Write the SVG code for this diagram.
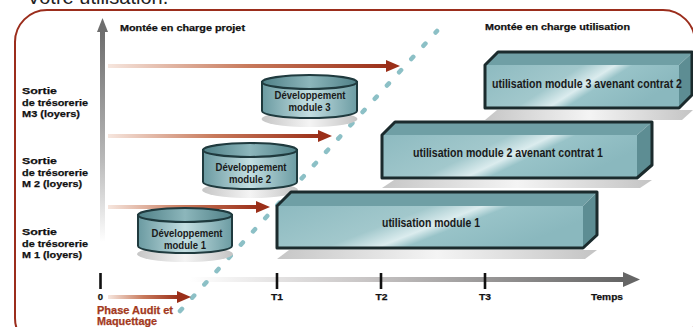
<svg xmlns="http://www.w3.org/2000/svg" width="693" height="327" viewBox="0 0 693 327">
<style>
.lbl{font-family:"Liberation Sans",Arial,sans-serif;font-weight:bold;font-size:9.5px;fill:#111;stroke:#111;stroke-width:0.25}
.red{font-family:"Liberation Sans",Arial,sans-serif;font-weight:bold;font-size:10px;fill:#a3391d;stroke:#a3391d;stroke-width:0.25}
.nar{font-family:"Liberation Sans",Arial,sans-serif;font-weight:bold;font-size:12.5px;fill:#1a1a1a;text-anchor:middle}
.cyl{font-size:11.5px}
.tick{stroke:#111;stroke-width:2.6}
.ctr{text-anchor:middle}
.outline{stroke:#1b2b2d;stroke-width:3;stroke-linejoin:round;fill:none}
.cylbody{fill:url(#cylG);stroke:#1f3a3e;stroke-width:2}
.cyltop{fill:url(#cylT);stroke:#1f3a3e;stroke-width:2.2}
.shadow{fill:url(#shG)}
.front{fill:url(#frontG)}
.topf{fill:#6f9fa5}
.side{fill:#5d8d93}
.redhead{fill:#9b2f19}
</style>
<defs>
<linearGradient id="redG" x1="0" y1="0" x2="1" y2="0">
<stop offset="0" stop-color="#f6e6de"/>
<stop offset="0.5" stop-color="#c87a5c"/>
<stop offset="1" stop-color="#9b2f19"/>
</linearGradient>
<linearGradient id="vaxG" x1="0" y1="0" x2="0" y2="1">
<stop offset="0" stop-color="#6e6e6e"/>
<stop offset="0.6" stop-color="#b8b8b8"/>
<stop offset="1" stop-color="#ffffff"/>
</linearGradient>
<linearGradient id="haxG" x1="0" y1="0" x2="1" y2="0">
<stop offset="0" stop-color="#ffffff"/>
<stop offset="0.4" stop-color="#c9c6c6"/>
<stop offset="1" stop-color="#646464"/>
</linearGradient>
<linearGradient id="cylG" x1="0" y1="0" x2="1" y2="0">
<stop offset="0" stop-color="#6a9aa1"/>
<stop offset="0.5" stop-color="#c3dee1"/>
<stop offset="1" stop-color="#6c9ca3"/>
</linearGradient>
<linearGradient id="cylT" x1="0" y1="0" x2="1" y2="0">
<stop offset="0" stop-color="#4f8087"/>
<stop offset="0.5" stop-color="#8cb6bb"/>
<stop offset="1" stop-color="#4f8087"/>
</linearGradient>
<linearGradient id="shG" x1="0" y1="0" x2="1" y2="0">
<stop offset="0" stop-color="#c6c6c6"/>
<stop offset="0.5" stop-color="#f4f4f4"/>
<stop offset="1" stop-color="#c4c4c4"/>
</linearGradient>
<linearGradient id="frontG" x1="0" y1="0" x2="1" y2="0.35">
<stop offset="0" stop-color="#8dbac0"/>
<stop offset="0.45" stop-color="#a2c8cc"/>
<stop offset="0.6" stop-color="#dbecee"/>
<stop offset="0.68" stop-color="#98c3c8"/>
<stop offset="1" stop-color="#8ab8be"/>
</linearGradient>
</defs>

<text x="27" y="4" font-family="Liberation Sans,Arial,sans-serif" font-size="20" fill="#222">Votre utilisation.</text>

<rect x="15" y="10" width="680" height="340" rx="32" ry="32" fill="none" stroke="#9b2d1c" stroke-width="2"/>

<g id="axes">
<rect x="100" y="32" width="5" height="210" fill="url(#vaxG)"/>
<polygon points="97,32 108,32 102.5,18" fill="#6e6e6e"/>
<rect x="190" y="277" width="433" height="5" fill="url(#haxG)"/>
<polygon points="623,272 640,279.5 623,287" fill="#666"/>
<line class="tick" x1="100.5" y1="273" x2="100.5" y2="289"/>
<line class="tick" x1="277" y1="273" x2="277" y2="289"/>
<line class="tick" x1="381" y1="273" x2="381" y2="289"/>
<line class="tick" x1="485" y1="273" x2="485" y2="289"/>
<text class="lbl ctr" x="100.5" y="300">0</text>
<text class="lbl ctr" x="277" y="300" textLength="12" lengthAdjust="spacingAndGlyphs">T1</text>
<text class="lbl ctr" x="381.5" y="300" textLength="12" lengthAdjust="spacingAndGlyphs">T2</text>
<text class="lbl ctr" x="485" y="300" textLength="12" lengthAdjust="spacingAndGlyphs">T3</text>
<text class="lbl ctr" x="607" y="300" textLength="32" lengthAdjust="spacingAndGlyphs">Temps</text>
</g>

<g id="labels">
<text class="lbl" x="120" y="31" textLength="125" lengthAdjust="spacingAndGlyphs">Montée en charge projet</text>
<text class="lbl" x="485" y="30" textLength="145" lengthAdjust="spacingAndGlyphs">Montée en charge utilisation</text>
<text class="lbl" x="22" y="94" textLength="35" lengthAdjust="spacingAndGlyphs">Sortie</text>
<text class="lbl" x="22" y="105.5" textLength="66" lengthAdjust="spacingAndGlyphs">de trésorerie</text>
<text class="lbl" x="22" y="117" textLength="58" lengthAdjust="spacingAndGlyphs">M3 (loyers)</text>
<text class="lbl" x="22" y="164" textLength="35" lengthAdjust="spacingAndGlyphs">Sortie</text>
<text class="lbl" x="22" y="175.5" textLength="66" lengthAdjust="spacingAndGlyphs">de trésorerie</text>
<text class="lbl" x="22" y="187" textLength="60" lengthAdjust="spacingAndGlyphs">M 2 (loyers)</text>
<text class="lbl" x="22" y="235" textLength="35" lengthAdjust="spacingAndGlyphs">Sortie</text>
<text class="lbl" x="22" y="246.5" textLength="66" lengthAdjust="spacingAndGlyphs">de trésorerie</text>
<text class="lbl" x="22" y="258" textLength="60" lengthAdjust="spacingAndGlyphs">M 1 (loyers)</text>
<text class="red" x="97" y="314" textLength="76" lengthAdjust="spacingAndGlyphs">Phase Audit et</text>
<text class="red" x="97" y="325" textLength="60" lengthAdjust="spacingAndGlyphs">Maquettage</text>
</g>

<g id="connectors">
<line x1="180" y1="311" x2="437" y2="31" stroke="#8cc0c6" stroke-width="4.5" stroke-linecap="round" stroke-dasharray="3 15"/>
<rect x="108" y="64" width="280" height="4" fill="url(#redG)"/>
<polygon class="redhead" points="386,60 400,66 386,72"/>
<rect x="108" y="134" width="212" height="4" fill="url(#redG)"/>
<polygon class="redhead" points="318,130 332,136 318,142"/>
<rect x="108" y="205" width="150" height="4" fill="url(#redG)"/>
<polygon class="redhead" points="256,201 270,207 256,213"/>
<rect x="108" y="295" width="71" height="4" fill="url(#redG)"/>
<polygon class="redhead" points="177,291 191,297 177,303"/>
</g>

<g id="dev1">
<ellipse class="shadow" cx="185" cy="254" rx="48" ry="8"/>
<path class="cylbody" d="M138,215 L138,246 A47,7 0 0 0 232,246 L232,215 Z"/>
<ellipse class="cyltop" cx="185" cy="215" rx="47" ry="7"/>
<text class="nar cyl" x="187" y="236.5" textLength="71" lengthAdjust="spacingAndGlyphs">Développement</text>
<text class="nar cyl" x="185" y="248.5" textLength="42" lengthAdjust="spacingAndGlyphs">module 1</text>
</g>

<g id="dev2">
<ellipse class="shadow" cx="250" cy="190" rx="48" ry="8"/>
<path class="cylbody" d="M203,150 L203,182 A47,7 0 0 0 297,182 L297,150 Z"/>
<ellipse class="cyltop" cx="250" cy="150" rx="47" ry="7"/>
<text class="nar cyl" x="251" y="170.5" textLength="71" lengthAdjust="spacingAndGlyphs">Développement</text>
<text class="nar cyl" x="250" y="182.5" textLength="42" lengthAdjust="spacingAndGlyphs">module 2</text>
</g>

<g id="dev3">
<ellipse class="shadow" cx="309.5" cy="119" rx="48" ry="8"/>
<path class="cylbody" d="M262,82 L262,111 A47.5,7 0 0 0 357,111 L357,82 Z"/>
<ellipse class="cyltop" cx="309.5" cy="82" rx="47.5" ry="7"/>
<text class="nar cyl" x="310" y="99" textLength="71" lengthAdjust="spacingAndGlyphs">Développement</text>
<text class="nar cyl" x="309.5" y="111" textLength="42" lengthAdjust="spacingAndGlyphs">module 3</text>
</g>

<g id="util1">
<polygon class="shadow" points="289,250 597,250 585,259 277,259"/>
<rect class="front" x="277" y="206" width="306" height="42"/>
<polygon class="topf" points="277,206 291,192 597,192 583,206"/>
<polygon class="side" points="583,206 597,192 597,235 583,248"/>
<polygon class="outline" points="277,206 291,192 597,192 597,235 583,248 277,248"/>
<text class="nar" x="431" y="227" textLength="98" lengthAdjust="spacingAndGlyphs">utilisation module 1</text>
</g>

<g id="util2">
<polygon class="shadow" points="394,180 652,180 640,188 382,188"/>
<rect class="front" x="382" y="135" width="255" height="43"/>
<polygon class="topf" points="382,135 395,122 652,122 637,135"/>
<polygon class="side" points="637,135 652,122 652,165 637,178"/>
<polygon class="outline" points="382,135 395,122 652,122 652,165 637,178 382,178"/>
<text class="nar" x="508" y="157" textLength="190" lengthAdjust="spacingAndGlyphs">utilisation module 2 avenant contrat 1</text>
</g>

<g id="util3">
<polygon class="shadow" points="497,110 693,110 682,120 485,120"/>
<rect class="front" x="485" y="65" width="194" height="43"/>
<polygon class="topf" points="485,65 498,52 693,52 679,65"/>
<polygon class="side" points="679,65 693,52 693,95 679,108"/>
<polygon class="outline" points="485,65 498,52 692,52 692,95 679,108 485,108"/>
<text class="nar" x="587" y="88" textLength="190" lengthAdjust="spacingAndGlyphs">utilisation module 3 avenant contrat 2</text>
</g>
</svg>
